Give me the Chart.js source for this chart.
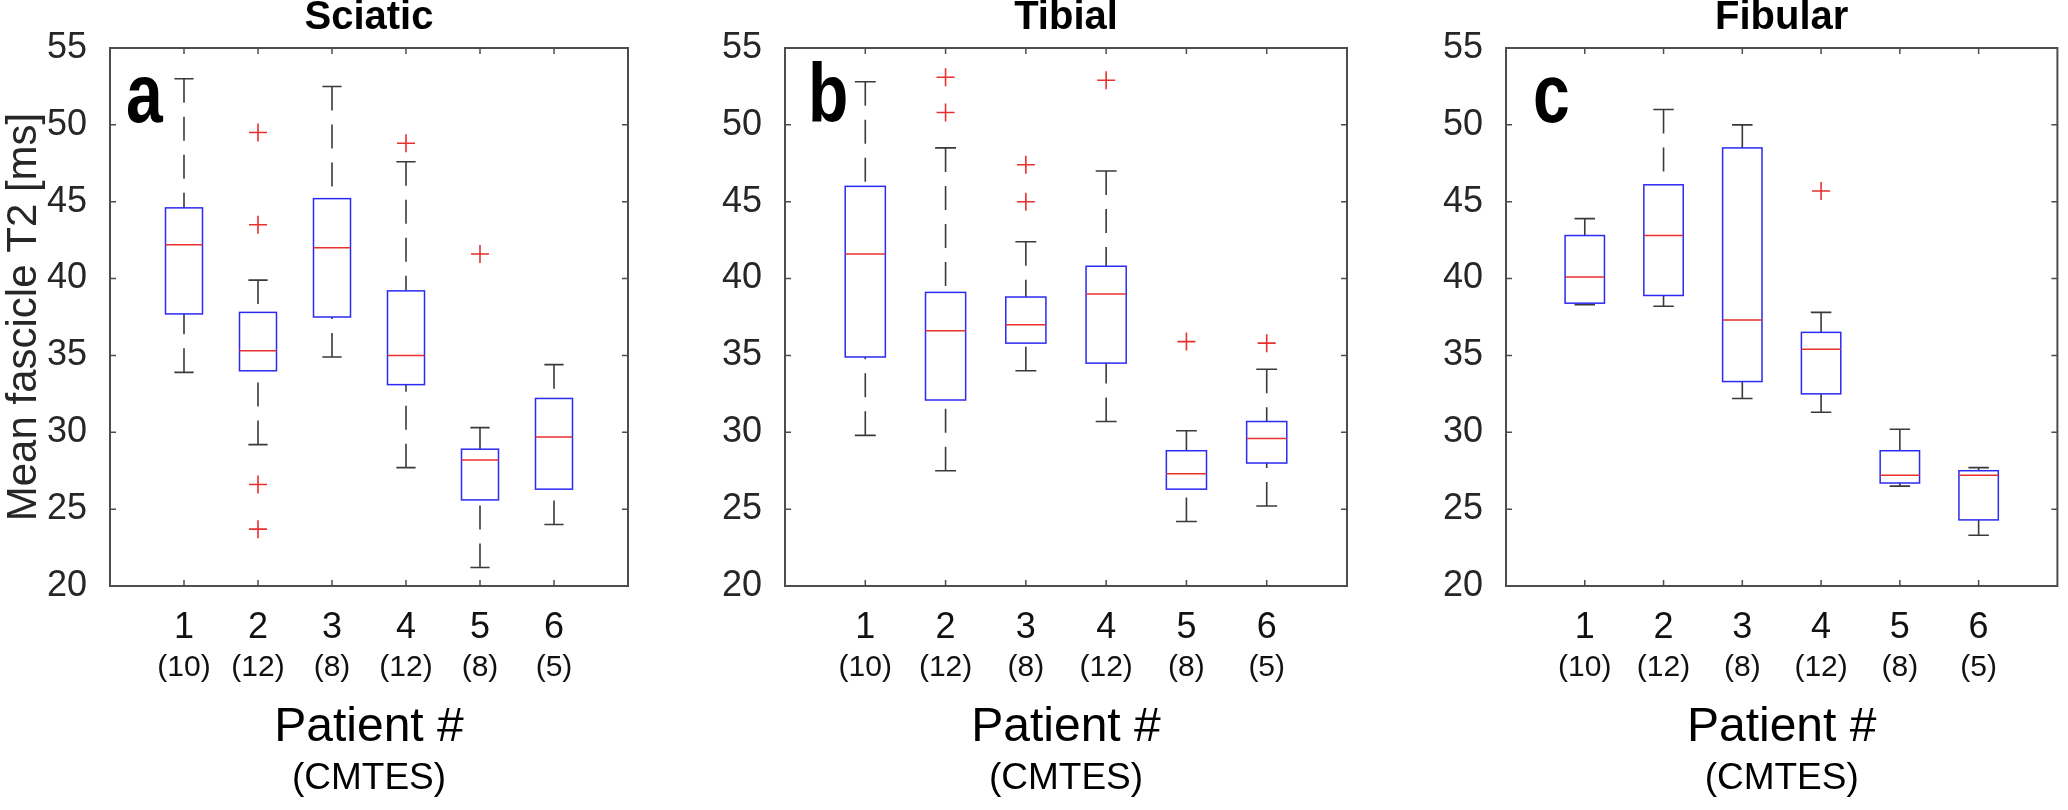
<!DOCTYPE html>
<html>
<head>
<meta charset="utf-8">
<script src="https://cdn.jsdelivr.net/npm/chart.js@4.4.0/dist/chart.umd.min.js"></script>
<style>
  html, body { margin: 0; padding: 0; background: #fff; }
  body { width: 2068px; height: 810px; position: relative; overflow: hidden; }
  canvas { position: absolute; top: 0; }
</style>
</head>
<body>
<canvas id="sciatic" width="700" height="810" style="left:0px"></canvas>
<canvas id="tibial" width="720" height="810" style="left:700px"></canvas>
<canvas id="fibular" width="648" height="810" style="left:1420px"></canvas>
<script>
const patients = [1, 2, 3, 4, 5, 6]
const patientCounts = ["(10)", "(12)", "(8)", "(12)", "(8)", "(5)"]
const yTicks = [20, 25, 30, 35, 40, 45, 50, 55]

// Sciatic - whisker low, Q1, median, Q3, whisker high, outliers [patient, value]
const sciaticLow = [33.9, 29.2, 34.9, 27.7, 21.2, 24.0]
const sciaticQ1 = [37.7, 34.0, 37.5, 33.1, 25.6, 26.3]
const sciaticMed = [42.2, 35.3, 42.0, 35.0, 28.2, 29.7]
const sciaticQ3 = [44.6, 37.8, 45.2, 39.2, 28.9, 32.2]
const sciaticHigh = [53.0, 39.9, 52.5, 47.6, 30.3, 34.4]
const sciaticOut = [[2, 49.5], [2, 43.5], [2, 26.6], [2, 23.7], [4, 48.8], [5, 41.6]]

// Tibial
const tibialLow = [29.8, 27.5, 34.0, 30.7, 24.2, 25.2]
const tibialQ1 = [34.9, 32.1, 35.8, 34.5, 26.3, 28.0]
const tibialMed = [41.6, 36.6, 37.0, 39.0, 27.3, 29.6]
const tibialQ3 = [46.0, 39.1, 38.8, 40.8, 28.8, 30.7]
const tibialHigh = [52.8, 48.5, 42.4, 47.0, 30.1, 34.1]
const tibialOut = [[2, 53.1], [2, 50.8], [3, 47.4], [3, 45.0], [4, 52.9], [5, 35.9], [6, 35.8]]

// Fibular
const fibularLow = [38.3, 38.2, 32.2, 31.3, 26.5, 23.3]
const fibularQ1 = [38.4, 38.9, 33.3, 32.5, 26.7, 24.3]
const fibularMed = [40.1, 42.8, 37.3, 35.4, 27.2, 27.2]
const fibularQ3 = [42.8, 46.1, 48.5, 36.5, 28.8, 27.5]
const fibularHigh = [43.9, 51.0, 50.0, 37.8, 30.2, 27.7]
const fibularOut = [[4, 45.7]]

const FONT = "'Liberation Sans', Arial, Helvetica, sans-serif"
Chart.defaults.font.family = FONT

const BLUE = "#2a2af2"
const RED = "#e8302f"

// draws boxes / whiskers through the chart scales, plus the matlab-ish frame
const boxPlugin = {
  id: "boxes",
  beforeDatasetsDraw(chart) {
    const { ctx } = chart
    const x = chart.scales.x
    const y = chart.scales.y
    const b = chart.$box
    ctx.save()
    patients.forEach((p, i) => {
      const c = x.getPixelForValue(p)
      const hw = x.getPixelForValue(p + 0.25) - c
      const cw = x.getPixelForValue(p + 0.13) - c
      const yLo = y.getPixelForValue(b.low[i])
      const yQ1 = y.getPixelForValue(b.q1[i])
      const yMed = y.getPixelForValue(b.med[i])
      const yQ3 = y.getPixelForValue(b.q3[i])
      const yHi = y.getPixelForValue(b.high[i])

      // whiskers (dashed)
      ctx.strokeStyle = "#3a3a3a"
      ctx.lineWidth = 1.6
      ctx.setLineDash([24, 14])
      ctx.beginPath()
      ctx.moveTo(c, yHi); ctx.lineTo(c, yQ3)
      ctx.moveTo(c, yLo); ctx.lineTo(c, yQ1)
      ctx.stroke()
      ctx.setLineDash([])
      // caps
      ctx.beginPath()
      ctx.moveTo(c - cw, yHi); ctx.lineTo(c + cw, yHi)
      ctx.moveTo(c - cw, yLo); ctx.lineTo(c + cw, yLo)
      ctx.stroke()

      // box
      ctx.fillStyle = "#fff"
      ctx.fillRect(c - hw, yQ3, 2 * hw, yQ1 - yQ3)
      ctx.strokeStyle = BLUE
      ctx.lineWidth = 1.5
      ctx.strokeRect(c - hw, yQ3, 2 * hw, yQ1 - yQ3)

      // median
      ctx.strokeStyle = RED
      ctx.beginPath()
      ctx.moveTo(c - hw, yMed); ctx.lineTo(c + hw, yMed)
      ctx.stroke()
    })
    ctx.restore()
  },
  afterDatasetsDraw(chart) {
    const { ctx, chartArea: a } = chart
    const x = chart.scales.x
    const y = chart.scales.y
    ctx.save()
    ctx.strokeStyle = "#4d4d4d"
    ctx.lineWidth = 2
    ctx.strokeRect(a.left, a.top, a.right - a.left, a.bottom - a.top)
    // inward ticks on all four sides
    ctx.lineWidth = 1.5
    ctx.beginPath()
    patients.forEach(p => {
      const px = x.getPixelForValue(p)
      ctx.moveTo(px, a.bottom); ctx.lineTo(px, a.bottom - 6)
      ctx.moveTo(px, a.top); ctx.lineTo(px, a.top + 6)
    })
    yTicks.forEach(v => {
      const py = y.getPixelForValue(v)
      ctx.moveTo(a.left, py); ctx.lineTo(a.left + 6, py)
      ctx.moveTo(a.right, py); ctx.lineTo(a.right - 6, py)
    })
    ctx.stroke()

    // panel letter
    ctx.fillStyle = "#000"
    ctx.font = "bold 66px " + FONT
    ctx.textBaseline = "alphabetic"
    ctx.translate(a.left + chart.$box.letterOffset, 122)
    ctx.scale(1, 1.25)
    ctx.fillText(chart.$box.letter, 0, 0)
    ctx.restore()
  }
}

const onlyPatients = scale => {
  scale.ticks = patients.map(v => ({ value: v }))
}

function makePanel(id, title, box, outliers, yWidth, padRight, showYTitle) {
  const chart = new Chart(document.getElementById(id), {
    type: "scatter",
    data: {
      datasets: [
        {
          data: outliers.map(([p, v]) => ({ x: p, y: v })),
          pointStyle: "cross",
          pointRadius: 9,
          pointHoverRadius: 9,
          borderColor: RED,
          borderWidth: 1.6,
        },
      ],
    },
    options: {
      responsive: false,
      animation: false,
      events: [],
      layout: { padding: { top: 0, left: 0, right: padRight, bottom: 9 } },
      plugins: {
        legend: { display: false },
        tooltip: { enabled: false },
        title: {
          display: true,
          text: title,
          fullSize: false,
          color: "#000",
          font: { size: 40, weight: "bold", lineHeight: 0.875 },
          padding: { top: 0, bottom: 13 },
        },
        subtitle: {
          display: true,
          position: "bottom",
          text: "(CMTES)",
          fullSize: false,
          color: "#000",
          font: { size: 37, lineHeight: 1.2 },
          padding: 0,
        },
      },
      scales: {
        x: {
          type: "linear",
          min: 0,
          max: 7,
          position: "bottom",
          afterBuildTicks: onlyPatients,
          afterFit: s => { s.height = 54.5 },
          grid: { display: false },
          border: { display: false },
          ticks: { font: { size: 36 }, color: "#111", padding: 12, callback: v => String(v) },
        },
        x2: {
          type: "linear",
          min: 0,
          max: 7,
          position: "bottom",
          weight: 1,
          afterBuildTicks: onlyPatients,
          afterFit: s => { s.height = 116.1 },
          grid: { display: false },
          border: { display: false },
          ticks: { font: { size: 30 }, color: "#111", padding: 1, callback: v => patientCounts[patients.indexOf(v)] },
          title: {
            display: true,
            text: "Patient #",
            color: "#000",
            font: { size: 48 },
            padding: { top: 20, bottom: 0 },
          },
        },
        y: {
          min: 20,
          max: 55,
          afterBuildTicks: s => { s.ticks = yTicks.map(v => ({ value: v })) },
          afterFit: s => { s.width = yWidth },
          grid: { display: false },
          border: { display: false },
          ticks: { font: { size: 36 }, color: "#262626", padding: 15 },
          title: {
            display: showYTitle,
            text: "Mean fascicle T2 [ms]",
            color: "#262626",
            font: { size: 42, lineHeight: 1.15 },
            padding: 0,
          },
        },
      },
    },
    plugins: [
      {
        id: "boxData",
        beforeInit(c) { c.$box = box },
      },
      boxPlugin,
    ],
  })
  return chart
}

makePanel("sciatic", "Sciatic",
  { low: sciaticLow, q1: sciaticQ1, med: sciaticMed, q3: sciaticQ3, high: sciaticHigh, letter: "a", letterOffset: 16 },
  sciaticOut, 110, 72, true)
makePanel("tibial", "Tibial",
  { low: tibialLow, q1: tibialQ1, med: tibialMed, q3: tibialQ3, high: tibialHigh, letter: "b", letterOffset: 23 },
  tibialOut, 85, 73, false)
makePanel("fibular", "Fibular",
  { low: fibularLow, q1: fibularQ1, med: fibularMed, q3: fibularQ3, high: fibularHigh, letter: "c", letterOffset: 27 },
  fibularOut, 86, 4, false)
</script>
</body>
</html>
